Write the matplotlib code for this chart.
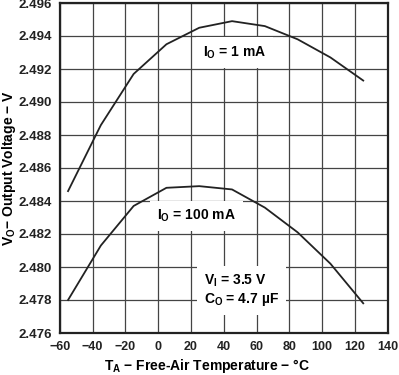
import matplotlib.pyplot as plt

plt.rcParams['font.family'] = 'Liberation Sans'
plt.rcParams['font.weight'] = 'bold'
plt.rcParams['axes.labelweight'] = 'bold'
plt.rcParams['mathtext.default'] = 'regular'

temp = [-55, -35, -15, 5, 25, 45, 65, 85, 105, 125]
vo_1ma = [2.4846, 2.4886, 2.4917, 2.4935, 2.4945, 2.4949, 2.4946, 2.4938, 2.4927, 2.4913]
vo_100ma = [2.4780, 2.4813, 2.4837, 2.4848, 2.4849, 2.4847, 2.4836, 2.4821, 2.4802, 2.4778]

xticks = [-60, -40, -20, 0, 20, 40, 60, 80, 100, 120, 140]
yticks = [2.476, 2.478, 2.480, 2.482, 2.484, 2.486, 2.488, 2.490, 2.492, 2.494, 2.496]

fig = plt.figure(figsize=(3.99, 3.75), dpi=100)
ax = fig.add_axes([0.150, 0.112, 0.822, 0.880])

ax.plot(temp, vo_1ma, color='#222222', lw=1.3, zorder=3)
ax.plot(temp, vo_100ma, color='#222222', lw=1.3, zorder=3)

ax.set_xlim(-60, 140)
ax.set_ylim(2.476, 2.496)
ax.set_xticks(xticks)
ax.set_yticks(yticks)
ax.set_xticklabels(['\u2212' + str(-t) if t < 0 else str(t) for t in xticks])
ax.set_yticklabels(['%.3f' % v for v in yticks])
ax.tick_params(length=0, labelsize=9.5, pad=6, colors='#222222')
ax.tick_params(axis='x', labelsize=9)
ax.grid(True, color='#444444', lw=0.9)
for s in ax.spines.values():
    s.set_linewidth(1.6)
    s.set_color('#222222')

box = dict(facecolor='white', edgecolor='none', pad=5)
ax.text(27.3, 2.4930, '$I_O$ = 1 mA', fontsize=10, va='center', bbox=box, zorder=4)
ax.text(-0.6, 2.4831, '$I_O$ = 100 mA', fontsize=10, va='center', bbox=box, zorder=4)
ax.text(27.9, 2.4786, '$V_I$ = 3.5 V\n$C_O$ = 4.7 \u00b5F', fontsize=10, va='center',
        bbox=box, zorder=4, linespacing=1.15)

ax.set_xlabel('$T_A$ \u2212 Free-Air Temperature \u2212 \u00b0C', fontsize=10)
ax.set_ylabel('$V_O$\u2212 Output Voltage \u2212 V', fontsize=10)
ax.xaxis.set_label_coords(0.45, -0.072)
ax.yaxis.set_label_coords(-0.128, 0.5)

fig.savefig('out.png', dpi=100)
